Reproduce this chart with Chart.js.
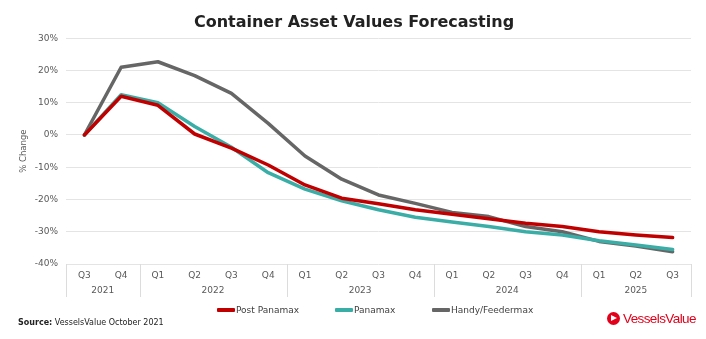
<!DOCTYPE html>
<html>
<head>
<meta charset="utf-8">
<script src="https://cdn.jsdelivr.net/npm/chart.js@4.4.1/dist/chart.umd.min.js"></script>
<style>
  body { margin: 0; background: #fff; font-family: "DejaVu Sans", Verdana, sans-serif; }
  #wrap { position: relative; width: 706px; height: 339px; }
  #legend { position: absolute; top: 304px; left: 0; width: 706px; height: 12px; font-size: 9px; color: #404040; }
  #legend .item { position: absolute; top: 0; display: flex; align-items: center; height: 12px; }
  #legend .swatch { width: 18px; height: 4px; margin-right: 1px; border-radius: 1px; }
  #source { position: absolute; left: 18px; top: 318px; font-size: 8px; color: #222; }
  #logo { position: absolute; left: 607px; top: 311px; display: flex; align-items: center; color: #e2001a; font-family: "Liberation Sans", Arial, sans-serif; font-size: 13.5px; letter-spacing: -0.6px; }
  #logo .mark { width: 13px; height: 13px; border-radius: 50%; background: #e2001a; position: relative; margin-right: 3px; }
  #logo .mark::after { content: ""; position: absolute; left: 4px; top: 3px; border-left: 6px solid #fff; border-top: 3.5px solid transparent; border-bottom: 3.5px solid transparent; }
</style>
</head>
<body>
<div id="wrap">
  <canvas id="chart" width="706" height="339"></canvas>
  <div id="legend"></div>
  <div id="source"><b>Source:</b> VesselsValue October 2021</div>
  <div id="logo"><span class="mark"></span>VesselsValue</div>
</div>
<script>
const quarters = ["Q3", "Q4", "Q1", "Q2", "Q3", "Q4", "Q1", "Q2", "Q3", "Q4", "Q1", "Q2", "Q3", "Q4", "Q1", "Q2", "Q3"];
const years = ["2021", "2022", "2023", "2024", "2025"];
const yearSpans = [2, 4, 4, 4, 3];

const postPanamax = [0, 12, 9.2, 0.3, -4.1, -9.3, -15.5, -19.6, -21.3, -23.2, -24.6, -26, -27.4, -28.4, -30, -31, -31.8];
const panamax = [0, 12.5, 10, 2.6, -3.8, -11.7, -16.8, -20.4, -23.2, -25.5, -27, -28.4, -30, -31, -32.8, -34.1, -35.5];
const handyFeedermax = [0, 21, 22.7, 18.4, 12.9, 3.6, -6.5, -13.7, -18.6, -21.2, -24, -25.3, -28.4, -30, -33, -34.4, -36.2];

const yTicks = [30, 20, 10, 0, -10, -20, -30, -40];

const font = "'DejaVu Sans', Verdana, sans-serif";
const gridColor = "#e4e4e4";

// year row + separators under the quarter labels
const yearRows = {
  id: "yearRows",
  afterDraw(chart) {
    const { ctx, chartArea, scales } = chart;
    const x = scales.x;
    const top = chartArea.bottom;
    const bottom = top + 33;
    ctx.save();
    ctx.strokeStyle = "#dcdcdc";
    ctx.lineWidth = 1;
    ctx.fillStyle = "#595959";
    ctx.font = "9px " + font;
    ctx.textAlign = "center";
    ctx.textBaseline = "middle";
    let start = 0;
    const edge = (i) => {
      if (i <= 0) return chartArea.left;
      if (i >= quarters.length) return chartArea.right;
      return (x.getPixelForValue(i - 1) + x.getPixelForValue(i)) / 2;
    };
    const line = (px) => {
      px = Math.round(px) + 0.5;
      ctx.beginPath();
      ctx.moveTo(px, top);
      ctx.lineTo(px, bottom);
      ctx.stroke();
    };
    line(edge(0));
    years.forEach((yr, k) => {
      const end = start + yearSpans[k];
      const l = edge(start), r = edge(end);
      ctx.fillText(yr, (l + r) / 2, top + 27);
      line(r);
      start = end;
    });
    ctx.restore();
  }
};

const chart = new Chart(document.getElementById("chart"), {
  type: "line",
  data: {
    labels: quarters,
    datasets: [
      { label: "Post Panamax", data: postPanamax, borderColor: "#c00000", backgroundColor: "#c00000" },
      { label: "Panamax", data: panamax, borderColor: "#3aaea6", backgroundColor: "#3aaea6" },
      { label: "Handy/Feedermax", data: handyFeedermax, borderColor: "#666666", backgroundColor: "#666666" },
    ],
  },
  options: {
    responsive: false,
    animation: false,
    layout: { padding: { left: 17, right: 15, top: 0, bottom: 42 } },
    elements: {
      line: { borderWidth: 3.5, tension: 0, borderCapStyle: "round", borderJoinStyle: "round" },
      point: { radius: 0 },
    },
    plugins: {
      title: {
        display: true,
        text: "Container Asset Values Forecasting",
        color: "#222222",
        font: { family: font, size: 16, weight: "bold" },
        padding: { top: 13, bottom: 6 },
      },
      legend: { display: false },
      tooltip: { enabled: false },
    },
    scales: {
      x: {
        offset: true,
        grid: { display: false, drawTicks: false },
        border: { display: false },
        ticks: { color: "#595959", font: { family: font, size: 9 }, padding: 6, maxRotation: 0 },
        afterFit: (s) => { s.height = 33; },
      },
      y: {
        min: -40,
        max: 30,
        afterBuildTicks: (s) => { s.ticks = yTicks.map((v) => ({ value: v })); },
        grid: { color: gridColor, drawTicks: false },
        border: { display: false },
        ticks: { color: "#595959", font: { family: font, size: 9 }, padding: 8, callback: (v) => v + "%" },
        title: { display: true, text: "% Change", color: "#595959", font: { family: font, size: 8.5 }, padding: 2 },
        afterFit: (s) => { s.width = 49; },
      },
    },
  },
  plugins: [yearRows],
});

// legend built from the datasets, placed like the original
const legendX = [217, 335, 432];
const legendEl = document.getElementById("legend");
chart.data.datasets.forEach((ds, i) => {
  const item = document.createElement("div");
  item.className = "item";
  item.style.left = legendX[i] + "px";
  item.innerHTML = '<span class="swatch" style="background:' + ds.borderColor + '"></span>' + ds.label;
  legendEl.appendChild(item);
});
</script>
</body>
</html>
